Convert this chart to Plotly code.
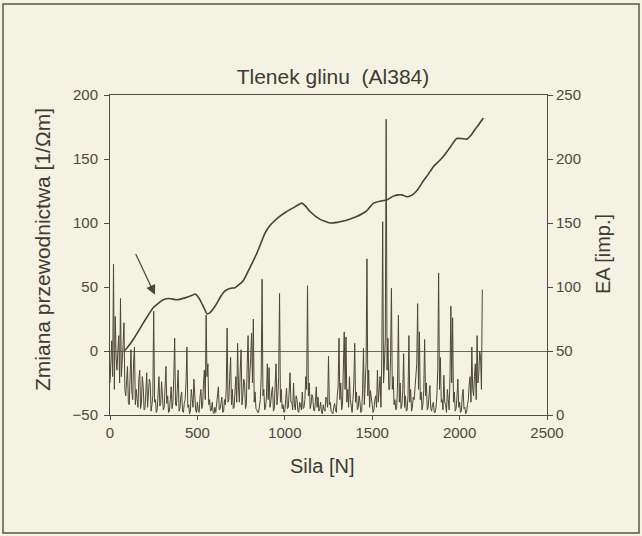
import plotly.graph_objects as go

# ---------------- data ----------------
# Conductivity change curve (left axis)
cond_force = [80, 95, 133, 191, 248, 305, 340, 381, 429, 470, 486, 500, 515, 540, 555, 572,
              591, 610, 635, 658, 690, 715, 740, 763, 800, 839, 887, 915, 960, 1011, 1050,
              1097, 1120, 1144, 1200, 1259, 1300, 1335, 1370, 1411, 1440, 1468, 1490, 1507,
              1545, 1583, 1621, 1650, 1669, 1700, 1730, 1760, 1793, 1820, 1850, 1880, 1907,
              1945, 1983, 2010, 2041, 2065, 2088, 2110, 2136]
cond_values = [0, 2, 9, 22, 34, 40, 41, 40, 41.5, 43.5, 44.5, 43, 40, 33, 29, 30,
               33, 37, 43, 47, 49, 49.5, 52, 55, 65, 76, 92, 98, 104, 109, 112,
               115.5, 113, 109, 103, 100, 100.5, 101.5, 103, 105, 107, 109.5, 113, 115.5,
               117, 118, 121, 122, 122, 120.5, 122, 126, 133, 138, 144, 148, 152,
               159, 166, 166, 165.5, 168.5, 173, 177, 182]

# Acoustic emission counts (right axis), sampled every 5 N from 0 N
ea_force_step = 5
ea_values = [
    25, 40, 58, 30, 118, 20, 77, 45, 35, 50, 62, 25, 91, 30, 40, 55, 72, 20, 15, 35,
    38, 10, 8, 30, 51, 18, 12, 42, 53, 8, 20, 12, 6, 28, 35, 5, 10, 30, 22, 4,
    5, 18, 33, 6, 14, 28, 25, 3, 8, 15, 81, 10, 12, 2, 4, 20, 30, 7, 9, 26,
    18, 4, 6, 24, 38, 9, 15, 2, 3, 12, 22, 5, 10, 30, 60, 8, 7, 20, 35, 3,
    5, 14, 18, 3, 2, 9, 12, 25, 53, 6, 8, 1, 3, 20, 15, 6, 28, 10, 4, 2,
    10, 3, 2, 14, 20, 5, 8, 25, 35, 12, 78, 30, 40, 8, 12, 3, 4, 10, 2, 1,
    6, 2, 10, 16, 22, 4, 5, 9, 14, 2, 3, 12, 8, 20, 68, 10, 12, 30, 45, 8,
    20, 5, 6, 18, 30, 10, 56, 22, 10, 35, 51, 8, 15, 28, 25, 5, 8, 40, 62, 20,
    30, 45, 64, 25, 75, 10, 18, 5, 4, 2, 2, 8, 12, 30, 106, 15, 20, 4, 6, 14,
    40, 12, 37, 6, 10, 18, 22, 3, 5, 25, 40, 8, 15, 30, 95, 10, 20, 5, 8, 2,
    3, 12, 21, 5, 6, 18, 33, 10, 10, 4, 25, 8, 4, 15, 12, 3, 2, 10, 8, 4,
    18, 5, 6, 12, 30, 20, 101, 15, 25, 5, 8, 16, 14, 4, 3, 10, 22, 6, 14, 3,
    5, 10, 2, 1, 8, 4, 3, 14, 12, 6, 46, 8, 10, 3, 2, 1, 6, 9, 4, 2,
    15, 22, 60, 12, 25, 4, 8, 30, 65, 20, 61, 10, 20, 6, 30, 12, 5, 2, 12, 25,
    56, 10, 18, 4, 6, 15, 10, 2, 3, 20, 52, 8, 25, 40, 122, 15, 35, 6, 19, 10,
    8, 2, 4, 12, 15, 6, 35, 10, 22, 30, 6, 45, 151, 25, 40, 60, 231, 35, 60, 20,
    20, 45, 99, 20, 30, 8, 12, 4, 5, 25, 78, 10, 25, 5, 8, 20, 48, 6, 15, 3,
    4, 15, 62, 10, 20, 3, 6, 14, 12, 25, 30, 40, 87, 20, 65, 12, 18, 4, 8, 20,
    59, 15, 25, 4, 6, 12, 23, 5, 3, 8, 10, 2, 2, 6, 15, 35, 111, 20, 45, 10,
    12, 4, 31, 10, 8, 2, 20, 12, 4, 30, 85, 25, 76, 10, 18, 3, 5, 14, 28, 6,
    10, 2, 3, 15, 20, 5, 6, 1, 2, 8, 12, 24, 30, 10, 53, 20, 15, 30, 40, 12,
    62, 25, 33, 50, 45, 20, 98,
]
ea_force = [i * ea_force_step for i in range(len(ea_values))]

x_ticks = [0, 500, 1000, 1500, 2000, 2500]
left_ticks = [-50, 0, 50, 100, 150, 200]
right_ticks = [0, 50, 100, 150, 200, 250]

title_text = "Tlenek glinu\u00a0\u00a0(Al384)"
x_title = "Sila [N]"
y_left_title = "Zmiana przewodnictwa [1/\u03a9m]"
y_right_title = "EA [imp.]"

# arrow pointing at the curve
arrow_tip = (257, 44)
arrow_tail = (143, 77)

# ---------------- styles ----------------
BG = "#f4f2e2"
INK = "#3d3b33"
LINE = "#4f4c40"
FONT = "Liberation Sans, Arial, sans-serif"

fig = go.Figure()
fig.add_trace(go.Scatter(x=ea_force, y=ea_values, yaxis="y2", mode="lines",
                         line=dict(color="#4a4739", width=1), showlegend=False))
fig.add_trace(go.Scatter(x=cond_force, y=cond_values, mode="lines",
                         line=dict(color="#45423a", width=1.6, shape="spline", smoothing=0.5),
                         showlegend=False))

axis_common = dict(showgrid=False, showline=True, linecolor=LINE, linewidth=1,
                   ticks="outside", tickcolor=LINE, tickwidth=1,
                   tickfont=dict(family=FONT, size=15, color="#4b4940"))

fig.update_layout(
    width=642, height=536,
    margin=dict(l=110, r=95, t=95, b=121),
    paper_bgcolor=BG, plot_bgcolor=BG,
    font=dict(family=FONT, color=INK),
    title=dict(text=title_text, x=333 / 642, xanchor="center", y=1 - 77 / 536,
               yanchor="middle", font=dict(size=21, color=INK, family=FONT)),
    xaxis=dict(range=[0, 2500], tickvals=x_ticks, mirror=True, zeroline=False,
               ticklen=4, **axis_common),
    yaxis=dict(range=[-50, 200], tickvals=left_ticks, zeroline=True,
               zerolinecolor="#6b685b", zerolinewidth=1, ticklabelstandoff=3,
               ticklen=5, **axis_common),
    yaxis2=dict(range=[0, 250], tickvals=right_ticks, overlaying="y", side="right",
                zeroline=False, ticklen=5, **axis_common),
    shapes=[dict(type="rect", xref="paper", yref="paper",
                 x0=(3 - 110) / 437, x1=(639 - 110) / 437,
                 y0=(415 - 533) / 320, y1=(415 - 4) / 320,
                 line=dict(color="#5a574b", width=1.5), fillcolor="rgba(0,0,0,0)")],
    annotations=[
        dict(text=x_title, xref="paper", yref="paper", x=(322 - 110) / 437,
             y=(415 - 466) / 320, showarrow=False, xanchor="center", yanchor="middle",
             font=dict(size=20, color=INK, family=FONT)),
        dict(text=y_left_title, xref="paper", yref="paper", x=(42 - 110) / 437,
             y=(415 - 250) / 320, showarrow=False, textangle=-90,
             xanchor="center", yanchor="middle", font=dict(size=21, color=INK, family=FONT)),
        dict(text=y_right_title, xref="paper", yref="paper", x=(603 - 110) / 437,
             y=(415 - 254) / 320, showarrow=False, textangle=-90,
             xanchor="center", yanchor="middle", font=dict(size=20, color=INK, family=FONT)),
        dict(x=arrow_tip[0], y=arrow_tip[1], xref="x", yref="y",
             ax=arrow_tail[0], ay=arrow_tail[1], axref="x", ayref="y",
             showarrow=True, arrowhead=2, arrowsize=1.6, arrowwidth=1.2,
             arrowcolor="#4a4739", text=""),
    ],
)

fig.write_html("out.html")
